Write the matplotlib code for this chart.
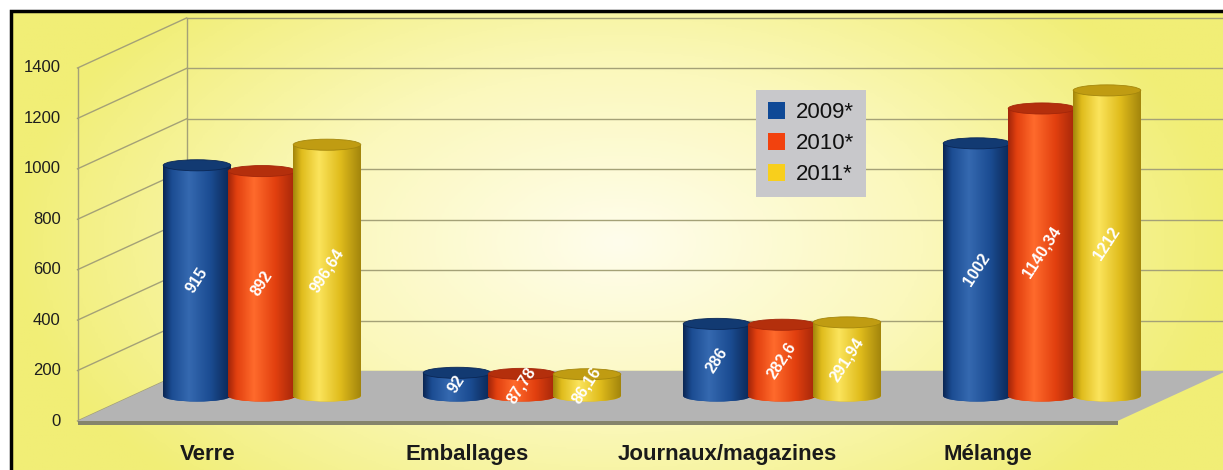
import numpy as np
import matplotlib
matplotlib.use('Agg')
import matplotlib.pyplot as plt
from matplotlib.patches import Ellipse, Polygon, Rectangle, Patch
from matplotlib.colors import LinearSegmentedColormap

plt.rcParams['font.family'] = ['Liberation Sans', 'DejaVu Sans']

categories = ['Verre', 'Emballages', 'Journaux/magazines', 'Mélange']
years = ['2009*', '2010*', '2011*']
values_2009 = [915, 92, 286, 1002]
values_2010 = [892, 87.78, 282.6, 1140.34]
values_2011 = [996.64, 86.16, 291.94, 1212]
yticks = [0, 200, 400, 600, 800, 1000, 1200, 1400]

series = [values_2009, values_2010, values_2011]
# edge shade, body, highlight, top cap
shades = [
    ('#0a2755', '#1b4c92', '#3569b0', '#123a72'),
    ('#a3260a', '#e2400f', '#ff6a2c', '#b42f0c'),
    ('#a4860c', '#e0bc1c', '#fbe45c', '#c09c12'),
]
legend_colors = ['#0f4996', '#f2420e', '#f8cf1c']

W, H = 1223, 470
fig = plt.figure(figsize=(W / 100, H / 100), dpi=100)

# yellow backdrop, paler towards the middle
bg = fig.add_axes([0, 0, 1, 1])
bg.set_axis_off()
gx = np.linspace(-1, 1, 400)
gy = np.linspace(-1, 1, 160)
X, Y = np.meshgrid(gx, gy)
r = np.clip(np.sqrt(X ** 2 + (Y / 1.5) ** 2), 0, 1)
bg_cmap = LinearSegmentedColormap.from_list('bg', ['#fffdec', '#fbf8bc', '#f1ee76'])
bg.imshow(r, cmap=bg_cmap, extent=[10, W + 5, -5, H - 10], aspect='auto',
          origin='lower', vmin=0, vmax=1)
bg.add_patch(Rectangle((10.5, -20), W + 20, H - 10.5 + 20, fill=False,
                       ec='black', lw=2.5))
bg.set_xlim(0, W)
bg.set_ylim(0, H)

# value plane sits halfway between the front and back walls
px_x = 260.0             # pixels per category
px_y = 353.0 / 1400      # pixels per unit
x_lo, x_hi = -0.95, 3.75
y_lo, y_hi = -290, 1500
ax = fig.add_axes([(132 + (x_lo + 0.5) * px_x) / W, (74 + y_lo * px_y) / H,
                   (x_hi - x_lo) * px_x / W, (y_hi - y_lo) * px_y / H])
ax.set_axis_off()
DX = 54.5 / px_x
DY = 25 / px_y
x = np.arange(len(categories))
left, right = -0.5, 3.5
grid_col = '#a4a177'

# back wall gridlines and left wall diagonals
for t in yticks:
    ax.plot([left + DX, right + DX], [t + DY, t + DY], color=grid_col, lw=1,
            clip_on=False, zorder=1)
    ax.plot([left - DX, left + DX], [t - DY, t + DY], color=grid_col, lw=1,
            clip_on=False, zorder=1)
    ax.text(left - DX - 0.065, t - DY, str(t), ha='right', va='center',
            fontsize=12, color='#1e1e1e')
ax.plot([left - DX, left - DX], [-DY, 1400 - DY], color=grid_col, lw=1,
        clip_on=False, zorder=1)
ax.plot([left + DX, left + DX], [DY, 1400 + DY], color=grid_col, lw=1,
        clip_on=False, zorder=1)

# floor
ax.add_patch(Polygon([(left - DX, -DY), (right - DX, -DY), (right + DX, DY),
                      (left + DX, DY)], closed=True, fc='#b4b4b4', ec='none',
                     clip_on=False, zorder=2))
ax.add_patch(Polygon([(left - DX, -DY), (right - DX, -DY),
                      (right - DX, -DY - 14), (left - DX, -DY - 14)],
                     closed=True, fc='#85846c', ec='none', clip_on=False,
                     zorder=2))

# cylinders
bar_w = 0.26
offsets = [-0.25, 0, 0.25]
cap_h = 44
grad = np.linspace(0, 1, 64).reshape(1, -1)
for k, vals in enumerate(series):
    dark, body, light, cap = shades[k]
    cmap = LinearSegmentedColormap.from_list(
        'cyl%d' % k, [(0, dark), (0.12, body), (0.38, light), (0.7, body), (1, dark)])
    z = 3 + k
    bars = ax.bar(x + offsets[k], vals, width=bar_w, color=body, zorder=z)
    for bar, v in zip(bars, vals):
        x0 = bar.get_x()
        x1 = x0 + bar_w
        xc = x0 + bar_w / 2
        base = Ellipse((xc, 0), bar_w, cap_h, fc=body, ec='none', zorder=z)
        ax.add_patch(base)
        im = ax.imshow(grad, cmap=cmap, extent=[x0, x1, 0, v], aspect='auto',
                       zorder=z, interpolation='bilinear')
        im.set_clip_path(bar)
        im2 = ax.imshow(grad, cmap=cmap, extent=[x0, x1, -cap_h / 2, 0],
                        aspect='auto', zorder=z, interpolation='bilinear')
        im2.set_clip_path(base)
        ax.add_patch(Ellipse((xc, v), bar_w, cap_h, fc=cap, ec=dark, lw=0.6,
                             zorder=z))
        label = ('%g' % v).replace('.', ',')
        ax.text(xc, v / 2, label, rotation=57, color='white', fontsize=11.5,
                fontweight='bold', ha='center', va='center', zorder=10)

# category names along the front edge
for i, name in enumerate(categories):
    ax.text(x[i] - DX, -254, name, ha='center', va='baseline', fontsize=16,
            fontweight='bold', color='#1a1a1a')

ax.set_xlim(x_lo, x_hi)
ax.set_ylim(y_lo, y_hi)

handles = [Patch(facecolor=c, edgecolor='none') for c in legend_colors]
leg = fig.legend(handles, years, loc='upper left',
                 bbox_to_anchor=(756 / W, 1 - 90 / H), frameon=True,
                 facecolor='#c8c8cb', edgecolor='none', fancybox=False,
                 framealpha=1, fontsize=16, handlelength=0.75, handleheight=0.75,
                 handletextpad=0.5, labelspacing=0.45, borderpad=0.55,
                 borderaxespad=0)
for txt in leg.get_texts():
    txt.set_color('#111111')

fig.savefig('out.png', dpi=100)
